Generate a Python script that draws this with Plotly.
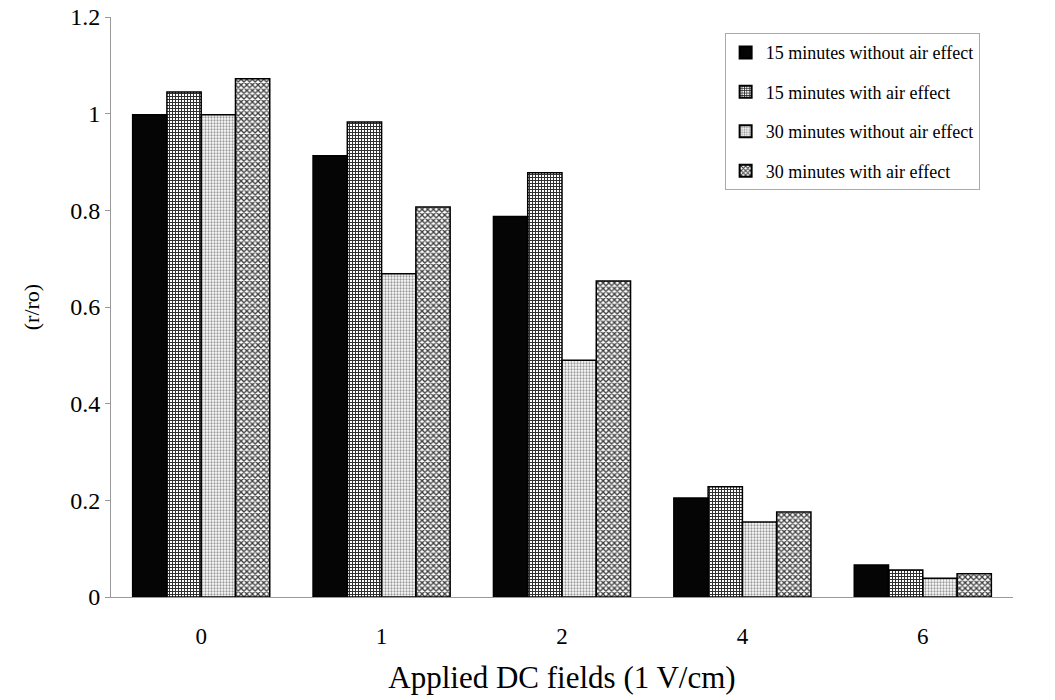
import plotly.graph_objects as go

fields = ["0", "1", "2", "4", "6"]
s15_no_air = [0.998, 0.913, 0.787, 0.205, 0.066]
s15_air = [1.045, 0.983, 0.878, 0.228, 0.056]
s30_no_air = [0.998, 0.669, 0.490, 0.155, 0.039]
s30_air = [1.072, 0.807, 0.654, 0.176, 0.048]

names = [
    "15 minutes without air effect",
    "15 minutes with air effect",
    "30 minutes without air effect",
    "30 minutes with air effect",
]
series = [s15_no_air, s15_air, s30_no_air, s30_air]
styles = [
    dict(color="#050505", pattern=dict(shape="")),
    dict(color="#ffffff", pattern=dict(shape="+", fgcolor="#2e2e2e", size=3, solidity=0.55, fillmode="replace")),
    dict(color="#ffffff", pattern=dict(shape=".", fgcolor="#9a9a9a", size=3, solidity=0.45, fillmode="replace")),
    dict(color="#ffffff", pattern=dict(shape="x", fgcolor="#3c3c3c", size=4, solidity=0.55, fillmode="replace")),
]

fig = go.Figure()
for i, (name, vals, st) in enumerate(zip(names, series, styles)):
    fig.add_trace(go.Bar(
        x=fields, y=vals, name=name, legendgroup=f"g{i}",
        marker=dict(color=st["color"], pattern=st["pattern"],
                    line=dict(color="#000000", width=1.5)),
    ))

fig.update_layout(
    width=1055, height=700,
    margin=dict(l=111, r=42, t=17, b=103, autoexpand=False),
    paper_bgcolor="white", plot_bgcolor="white",
    barmode="group", bargap=0.24, bargroupgap=0,
    font=dict(family="Liberation Serif", color="#000000", size=20),
    legend=dict(
        x=0.963, y=0.972, xanchor="right", yanchor="top",
        bgcolor="white", bordercolor="#aaaaaa", borderwidth=1,
        font=dict(family="Liberation Serif", size=18),
        itemsizing="constant", tracegroupgap=13, itemwidth=30,
    ),
    xaxis=dict(
        title=dict(text="Applied DC fields (1 V/cm)", font=dict(size=31), standoff=18),
        showline=True, linecolor="#999999", linewidth=1,
        ticks="", ticklabelstandoff=18, tickfont=dict(size=23), showgrid=False,
    ),
    yaxis=dict(
        title=dict(text="(r/ro)", font=dict(size=22), standoff=24),
        range=[0, 1.2], tickvals=[0, 0.2, 0.4, 0.6, 0.8, 1, 1.2],
        ticktext=["0", "0.2", "0.4", "0.6", "0.8", "1", "1.2"],
        showline=True, linecolor="#999999", linewidth=1,
        ticks="outside", ticklen=5, tickcolor="#999999",
        showgrid=False, zeroline=False, tickfont=dict(size=24),
    ),
)

fig.write_html("out.html")
